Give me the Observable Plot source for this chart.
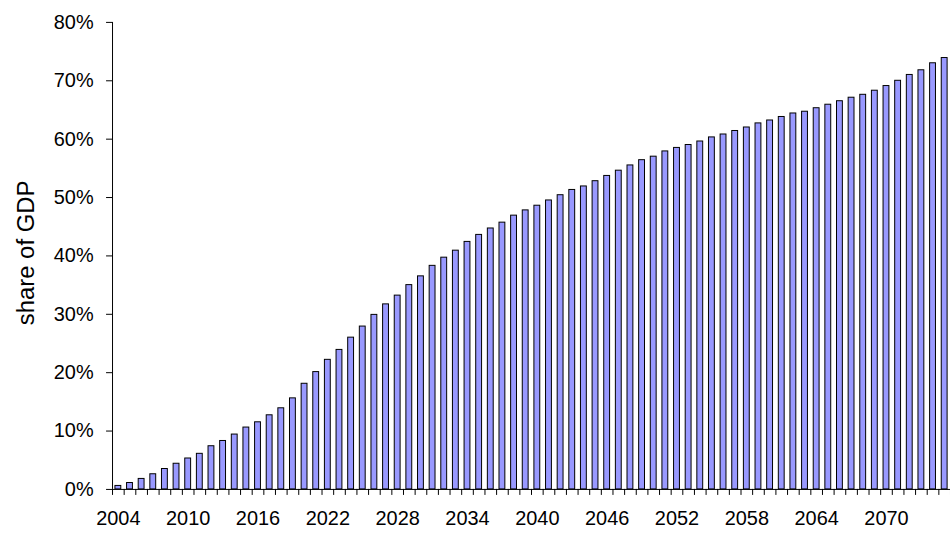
<!DOCTYPE html>
<html>
<head>
<meta charset="utf-8">
<script src="https://cdn.jsdelivr.net/npm/d3@7"></script>
<script src="https://cdn.jsdelivr.net/npm/@observablehq/plot@0.6"></script>
<style>
  html, body { margin: 0; padding: 0; overflow: hidden; background: #fff; }
  svg { display: block; }
</style>
</head>
<body>
<div id="chart"></div>
<script>
// Years (categories)
const years = [
  2004, 2005, 2006, 2007, 2008, 2009, 2010, 2011, 2012, 2013,
  2014, 2015, 2016, 2017, 2018, 2019, 2020, 2021, 2022, 2023,
  2024, 2025, 2026, 2027, 2028, 2029, 2030, 2031, 2032, 2033,
  2034, 2035, 2036, 2037, 2038, 2039, 2040, 2041, 2042, 2043,
  2044, 2045, 2046, 2047, 2048, 2049, 2050, 2051, 2052, 2053,
  2054, 2055, 2056, 2057, 2058, 2059, 2060, 2061, 2062, 2063,
  2064, 2065, 2066, 2067, 2068, 2069, 2070, 2071, 2072, 2073,
  2074, 2075
];
// Share of GDP (%)
const shares = [
  0.6, 1.1, 1.8, 2.6, 3.5, 4.4, 5.3, 6.1, 7.4, 8.3,
  9.4, 10.6, 11.5, 12.7, 13.9, 15.6, 18.1, 20.1, 22.2, 23.9,
  26.0, 27.9, 29.9, 31.7, 33.2, 35.0, 36.5, 38.3, 39.7, 40.9,
  42.4, 43.6, 44.7, 45.7, 46.9, 47.8, 48.6, 49.5, 50.4, 51.3,
  51.9, 52.8, 53.7, 54.6, 55.5, 56.4, 57.0, 57.9, 58.5, 59.0,
  59.6, 60.3, 60.8, 61.4, 62.0, 62.7, 63.2, 63.8, 64.4, 64.7,
  65.3, 65.9, 66.5, 67.1, 67.6, 68.3, 69.1, 70.0, 71.0, 71.8,
  73.0, 73.9
];
// Tick labels
const yTicks = [0, 10, 20, 30, 40, 50, 60, 70, 80];
const xLabelYears = [2004, 2010, 2016, 2022, 2028, 2034, 2040, 2046, 2052, 2058, 2064, 2070];
const yTitle = "share of GDP";

const data = years.map((year, i) => ({ year, share: shares[i] }));
const firstYear = years[0];
const lastYear = years[years.length - 1];
const boundaries = years.map(y => y - 0.5).concat([lastYear + 0.5]);

const chart = Plot.plot({
  width: 954,
  height: 535,
  marginLeft: 112.5,
  marginRight: 0,
  marginTop: 22,
  marginBottom: 44,
  style: {
    fontFamily: "Arial, 'Liberation Sans', sans-serif",
    fontSize: "20px",
    color: "#000",
    background: "#fff",
    overflow: "visible"
  },
  x: { type: "linear", domain: [firstYear - 0.5, lastYear + 0.5] },
  y: { domain: [0, 80] },
  marks: [
    Plot.rectY(data, {
      x1: d => d.year - 0.5,
      x2: d => d.year + 0.5,
      y: "share",
      fill: "#9999FF",
      stroke: "#000",
      strokeWidth: 1,
      insetLeft: 2.9,
      insetRight: 2.9
    }),
    Plot.axisX({ ticks: boundaries, tickSize: 6, tickFormat: () => "", stroke: "#000" }),
    Plot.axisX({ ticks: xLabelYears, tickSize: 0, tickPadding: 22, tickFormat: d => String(d), fill: "#000" }),
    Plot.axisY({
      ticks: yTicks,
      tickSize: 6,
      tickPadding: 13,
      tickFormat: d => d + "%",
      stroke: "#000",
      fill: "#000",
      label: null
    }),
    Plot.text([yTitle], {
      text: d => d,
      frameAnchor: "left",
      rotate: -90,
      textAnchor: "middle",
      lineAnchor: "top",
      dx: -96,
      dy: -3,
      fontSize: 24,
      fill: "#000"
    }),
    Plot.ruleX([firstYear - 0.5], { y1: 0, y2: 80, stroke: "#000" }),
    Plot.ruleY([0], { stroke: "#000" })
  ]
});
document.getElementById("chart").appendChild(chart);
</script>
</body>
</html>
